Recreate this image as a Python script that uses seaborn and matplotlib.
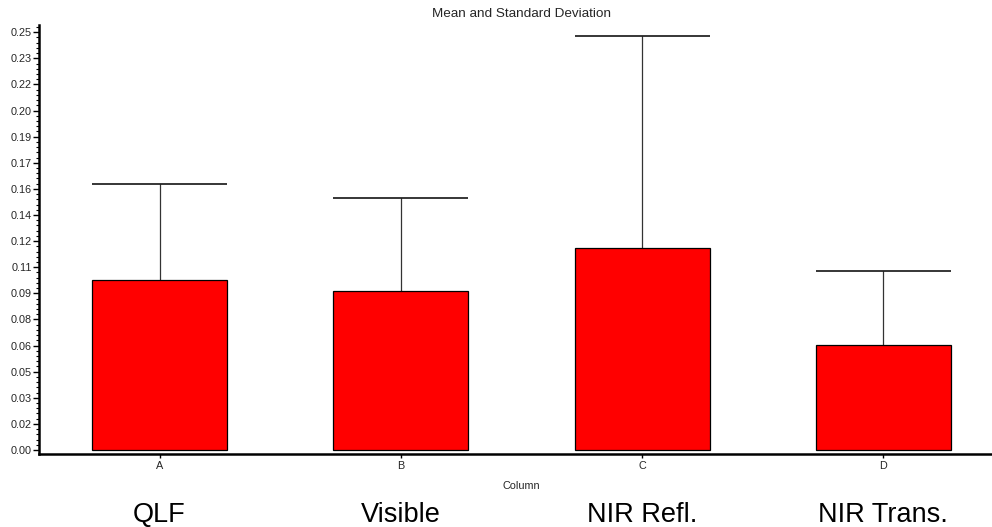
import numpy as np
import pandas as pd
import matplotlib
matplotlib.use("Agg")
import matplotlib.pyplot as plt
import seaborn as sns
from matplotlib.ticker import MultipleLocator, AutoMinorLocator, FormatStrFormatter

# ---- data ----
columns = ["A", "B", "C", "D"]
group_names = ["QLF", "Visible", "NIR Refl.", "NIR Trans."]
means = [0.1017, 0.0951, 0.1208, 0.0630]
sds = [0.0572, 0.0556, 0.1270, 0.0439]
title = "Mean and Standard Deviation"
xlabel = "Column"

sns.set_theme(style="white")
plt.rcParams["font.family"] = ["Liberation Sans", "DejaVu Sans"]

df = pd.DataFrame({"Column": columns, "Mean": means, "SD": sds})

fig = plt.figure(figsize=(9.92, 5.27), dpi=100)
ax = fig.add_axes([39 / 992, (527 - 454) / 527, 965 / 992, 429 / 527])

bar_w = 0.56
# error bars (upward only) drawn first so bars sit over the stem base
xs = np.arange(len(columns))
ax.vlines(xs, df["Mean"], df["Mean"] + df["SD"], color="#333333", lw=0.9, zorder=1)
ax.hlines(df["Mean"] + df["SD"], xs - bar_w / 2, xs + bar_w / 2, color="black", lw=1.1, zorder=1)

sns.barplot(data=df, x="Column", y="Mean", ax=ax, color="#ff0000", saturation=1,
            width=bar_w, edgecolor="black", linewidth=0.9, errorbar=None, zorder=2)

ax.set_xlim(-0.5, len(columns) - 0.5)
ax.set_ylim(-0.0024, 0.2543)

ax.yaxis.set_major_locator(MultipleLocator(1 / 64))
ax.yaxis.set_major_formatter(FormatStrFormatter("%.2f"))
ax.yaxis.set_minor_locator(AutoMinorLocator(5))

for side in ["top", "right"]:
    ax.spines[side].set_visible(False)
for side in ["left", "bottom"]:
    ax.spines[side].set_linewidth(1.8)
    ax.spines[side].set_color("black")

ax.tick_params(axis="y", which="major", direction="out", length=4, width=1,
               labelsize=7.8, pad=1, left=True, color="black")
ax.tick_params(axis="y", which="minor", direction="out", length=2, width=0.8,
               left=True, color="black")
ax.tick_params(axis="x", which="major", direction="out", length=3, width=1,
               labelsize=7.8, pad=2, bottom=True, color="black")

ax.set_ylabel("")
ax.set_xlabel(xlabel, fontsize=7.8, labelpad=7)
ax.set_title(title, fontsize=9.7, pad=6)

for i, name in enumerate(group_names):
    ax.text(i, -0.143, name, transform=ax.get_xaxis_transform(),
            ha="center", va="center", fontsize=19.5, color="black")

fig.savefig("out.png", dpi=100)
